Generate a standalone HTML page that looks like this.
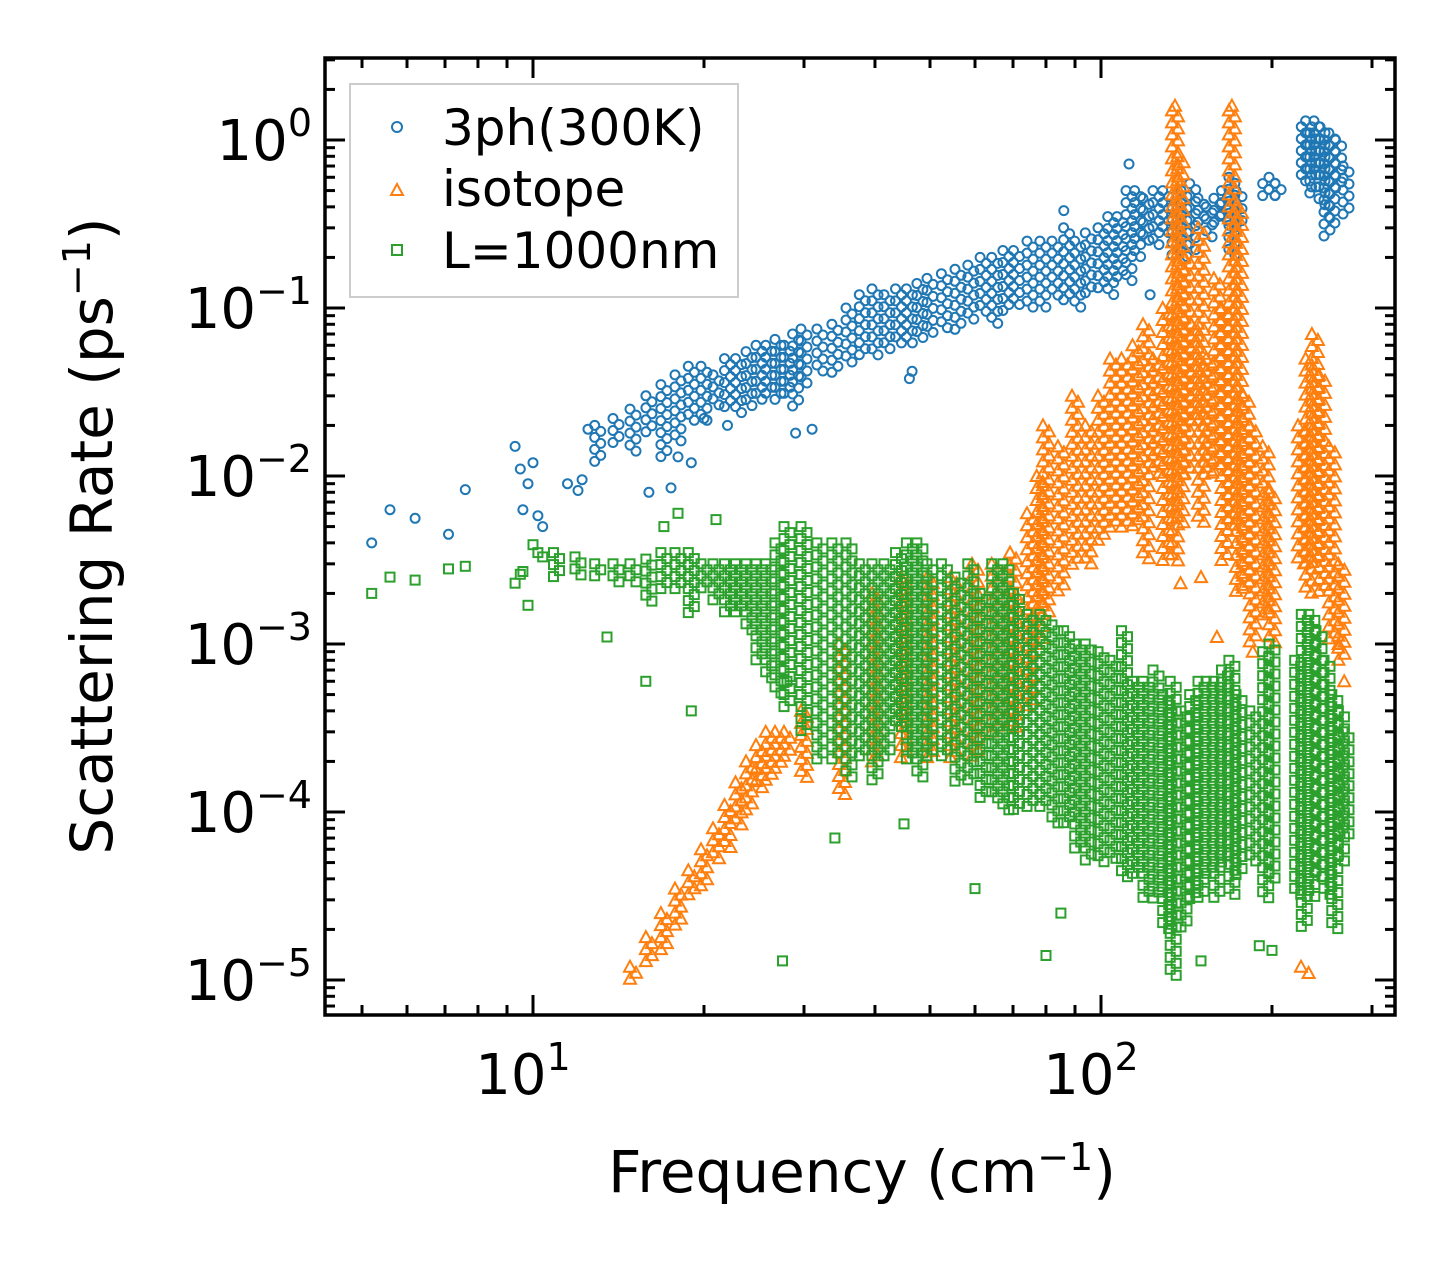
<!DOCTYPE html>
<html><head><meta charset="utf-8"><style>
body{margin:0;background:#fff}
svg{display:block;font-family:"DejaVu Sans","Liberation Sans",sans-serif}
</style></head><body>
<svg id="chart" width="1455" height="1265" viewBox="0 0 1455 1265" xmlns="http://www.w3.org/2000/svg">
<rect width="1455" height="1265" fill="#fff"/>
<g id="marks"></g>
<g id="axes"></g>
<g>
<rect x="350" y="84" width="388" height="213" fill="#fff" fill-opacity="0.8" stroke="#ccc" stroke-width="2"/>
<circle cx="397" cy="127" r="5" fill="none" stroke="#1f77b4" stroke-width="2"/>
<text x="442" y="145" font-size="50">3ph(300K)</text>
<path d="M391,195 L403,195 L397,184 Z" fill="none" stroke="#ff7f0e" stroke-width="2"/>
<text x="442" y="206" font-size="50">isotope</text>
<rect x="392" y="245" width="10" height="10" fill="none" stroke="#2ca02c" stroke-width="2"/>
<text x="442" y="268" font-size="50">L=1000nm</text>
</g>
<text x="862" y="1192" font-size="58" text-anchor="middle">Frequency (cm<tspan dy="-22" font-size="38">−1</tspan><tspan dy="22">)</tspan></text>
<text transform="translate(112,536) rotate(-90)" font-size="58" text-anchor="middle">Scattering Rate (ps<tspan dy="-22" font-size="38">−1</tspan><tspan dy="22">)</tspan></text>
</svg>
<script>
// Blue: 3-phonon scattering (scattered points)
const blueFreq=[5.2,5.6,6.2,7.1,7.6,9.3,9.5,9.6,9.8,10,10.2,10.4,11.5,12,12.2,12.5,16,17.5,18,19,20,22,29,31,46,46.5,86,112,122];
const blueRate=[0.004,0.0063,0.0056,0.0045,0.0083,0.015,0.011,0.0063,0.009,0.012,0.0058,0.005,0.009,0.0082,0.0095,0.019,0.008,0.0085,0.013,0.012,0.022,0.02,0.018,0.019,0.038,0.042,0.38,0.72,0.12];
// Blue dense ranges
const blueBandFreq=[13,14,15,16,17,18,19,20,21,22,23,24,25,26,27,28,29,30,32,34,36,38,40,42,44,46,48,50,53,56,59,62,65,68,71,75,79,83,87,91,95,100,104,108,112,116,120,125,130,135,140,145,150,155,160,165,170,175,195,200,205,228,232,236,240,245,250,255,262,270];
const blueBandLo=[0.012,0.015,0.014,0.018,0.013,0.015,0.02,0.02,0.025,0.025,0.022,0.025,0.028,0.03,0.028,0.03,0.025,0.035,0.04,0.04,0.045,0.05,0.05,0.055,0.06,0.06,0.065,0.07,0.075,0.07,0.08,0.09,0.08,0.09,0.1,0.1,0.1,0.11,0.11,0.1,0.12,0.13,0.12,0.15,0.14,0.2,0.25,0.22,0.28,0.2,0.2,0.22,0.3,0.25,0.3,0.33,0.2,0.3,0.45,0.45,0.45,0.6,0.5,0.45,0.6,0.4,0.25,0.3,0.5,0.35];
const blueBandHi=[0.02,0.022,0.025,0.03,0.035,0.04,0.045,0.045,0.04,0.05,0.05,0.055,0.06,0.06,0.065,0.06,0.07,0.075,0.075,0.08,0.1,0.12,0.13,0.12,0.13,0.13,0.14,0.15,0.16,0.17,0.18,0.2,0.2,0.22,0.22,0.25,0.25,0.25,0.3,0.25,0.28,0.3,0.35,0.35,0.5,0.5,0.45,0.5,0.5,0.4,0.5,0.55,0.45,0.4,0.45,0.5,0.6,0.5,0.55,0.6,0.55,1.2,1.3,1.1,1.3,1.2,1.0,1.1,1.0,0.7];
// Orange: isotope
const orangeFreq=[138,150,160,185,225,232,262,268,170,135];
const orangeRate=[0.0023,0.0025,0.0011,0.0009,0.000012,0.000011,0.001,0.0006,1.6,1.6];
const orangeBandFreq=[15,16,17,18,19,20,21,22,23,24,25,26,27,28,30,35,40,45,50,55,60,65,70,75,78,80,85,90,95,100,105,110,115,120,125,130,135,138,142,146,150,155,160,165,170,175,180,185,195,200,225,232,238,245,255,265];
const orangeBandLo=[1e-5,1.2e-5,1.5e-5,2e-5,3e-5,3.5e-5,5e-5,6e-5,8e-5,1e-4,1.3e-4,1.5e-4,1.8e-4,2e-4,1.5e-4,1.2e-4,2e-4,2e-4,2e-4,2e-4,2e-4,3e-4,3e-4,4e-4,1e-3,1.5e-3,2e-3,3e-3,3e-3,4e-3,5e-3,5e-3,5e-3,3e-3,1e-2,3e-3,3e-3,5e-3,1e-2,2e-2,5e-3,1e-2,1e-2,3e-3,5e-3,2e-3,2e-3,1e-3,1.5e-3,1e-3,3e-3,2e-3,3e-3,2e-3,1e-3,8e-4];
const orangeBandHi=[1.2e-5,1.8e-5,2.5e-5,3.5e-5,4.5e-5,6e-5,8e-5,1.1e-4,1.5e-4,2e-4,2.5e-4,3e-4,3e-4,3e-4,4e-4,1e-3,2e-3,2.5e-3,2.5e-3,2.5e-3,3e-3,3e-3,3.5e-3,6e-3,1e-2,2e-2,1.5e-2,3e-2,2e-2,3e-2,5e-2,5e-2,6e-2,8e-2,5e-2,0.1,1.5,0.8,0.2,0.08,0.3,0.05,0.15,0.1,1.5,0.4,0.03,0.02,1.5e-2,8e-3,2e-2,5e-2,0.07,0.04,1.5e-2,3e-3];
// Green: boundary L=1000nm
const greenFreq=[5.2,5.6,6.2,7.1,7.6,9.3,9.5,9.6,9.8,10,10.2,10.4,13.5,15.8,19,21,18,17,28,27.5,34,45,60,80,85,150,190,200];
const greenRate=[0.002,0.0025,0.0024,0.0028,0.0029,0.0023,0.0026,0.0027,0.0017,0.0039,0.0035,0.0033,0.0011,0.0006,0.0004,0.0055,0.006,0.005,0.0006,0.000013,0.00007,0.000085,0.000035,0.000014,0.000025,0.000013,0.000016,0.000015];
const greenBandFreq=[11,12,13,14,15,16,17,18,19,20,21,22,23,24,25,26,27,28,30,32,34,36,38,40,42,44,46,48,50,53,56,59,62,65,68,71,75,79,83,87,91,95,100,105,110,115,120,125,130,134,140,145,150,155,160,165,170,175,185,195,200,222,228,235,242,250,258,265,270];
const greenBandLo=[0.0025,0.0025,0.0024,0.0023,0.0022,0.0018,0.002,0.002,0.0015,0.002,0.0018,0.0015,0.0015,0.0012,0.0008,0.0006,0.0005,0.0004,0.0003,0.0002,0.0002,0.00015,0.0002,0.00015,0.0002,0.0003,0.0002,0.00015,0.0002,0.0002,0.00015,0.00015,0.00012,0.00012,0.0001,0.0001,0.0001,0.0001,0.00008,0.00008,0.00006,0.00005,0.00005,0.00005,0.00004,0.00004,0.00003,0.00003,0.00002,0.00001,0.00002,0.00003,0.00003,0.00004,0.00003,0.00005,0.00003,0.00004,0.00005,0.00003,0.00004,0.00003,0.00002,0.00003,0.00004,0.00003,0.00002,0.00005,0.00007];
const greenBandHi=[0.0035,0.0033,0.003,0.003,0.003,0.0032,0.0035,0.0035,0.0035,0.003,0.003,0.003,0.003,0.003,0.003,0.003,0.004,0.005,0.005,0.004,0.004,0.004,0.003,0.003,0.003,0.0035,0.004,0.004,0.003,0.003,0.0025,0.003,0.002,0.003,0.003,0.002,0.0015,0.0015,0.0013,0.0012,0.001,0.001,0.0009,0.0008,0.0012,0.0006,0.0006,0.0007,0.0005,0.0006,0.0004,0.0005,0.0006,0.0006,0.0006,0.0007,0.0008,0.0005,0.0004,0.0009,0.001,0.0008,0.0015,0.0015,0.0012,0.0008,0.0005,0.0004,0.0003];

const xTickVals=[10,100];
const xTickLabels=["1","2"];
const yTickVals=[1,0.1,0.01,0.001,0.0001,0.00001];
const yTickLabels=["0","−1","−2","−3","−4","−5"];

const L=325,R=1395,T=58,B=1015;
const X0=533,XD=568,Y0=140,YD=168;
function xs(f){return X0+XD*(Math.log10(f)-1);}
function ys(v){return Y0-YD*Math.log10(v);}
const NS="http://www.w3.org/2000/svg";
const marks=document.getElementById('marks');
const axes=document.getElementById('axes');
function mk(tag,attrs,parent){const e=document.createElementNS(NS,tag);for(const k in attrs)e.setAttribute(k,attrs[k]);parent.appendChild(e);return e;}

function marker(kind,x,y,g){
  let e;
  if(kind==='c'){e=mk('circle',{cx:x.toFixed(1),cy:y.toFixed(1),r:4.5,fill:'none',stroke:'#1f77b4','stroke-width':2},g);}
  else if(kind==='t'){e=mk('path',{d:`M${(x-6).toFixed(1)},${(y+5).toFixed(1)}L${(x+6).toFixed(1)},${(y+5).toFixed(1)}L${x.toFixed(1)},${(y-6).toFixed(1)}Z`,fill:'none',stroke:'#ff7f0e','stroke-width':2},g);}
  else {e=mk('rect',{x:(x-4.5).toFixed(1),y:(y-4.5).toFixed(1),width:9,height:9,fill:'none',stroke:'#2ca02c','stroke-width':2},g);}
  return e;
}
function drawSeries(name,kind,fr,rt,bf,blo,bhi){
  const g=mk('g',{},marks);
  
  
  for(let i=0;i<bf.length;i++){
    const x=xs(bf[i]),y1=ys(bhi[i]),y2=ys(blo[i]);
    let k=0;
    for(let y=y1;y<=y2+0.1;y+=6){
      const m=marker(kind,x+((k%2)?3:-3),y,g);
      
      
      k++;
    }
  }
  for(let i=0;i<fr.length;i++){
    const m=marker(kind,xs(fr[i]),ys(rt[i]),g);
    
    
  }
}
drawSeries('3ph','c',blueFreq,blueRate,blueBandFreq,blueBandLo,blueBandHi);
drawSeries('isotope','t',orangeFreq,orangeRate,orangeBandFreq,orangeBandLo,orangeBandHi);
drawSeries('boundary','s',greenFreq,greenRate,greenBandFreq,greenBandLo,greenBandHi);

const fr=mk('rect',{x:L,y:T,width:R-L,height:B-T,fill:'none',stroke:'#000','stroke-width':3.5},axes);


for(let d=0;d<=2;d++){for(let m=1;m<=9;m++){
  const f=m*Math.pow(10,d);const x=xs(f);if(x<L||x>R)continue;
  const len=m===1?20:10;
  mk('line',{x1:x,y1:B,x2:x,y2:B-len,stroke:'#000','stroke-width':3},axes);
  mk('line',{x1:x,y1:T,x2:x,y2:T+len,stroke:'#000','stroke-width':3},axes);
}}
for(let d=-6;d<=0;d++){for(let m=1;m<=9;m++){
  const v=m*Math.pow(10,d);const y=ys(v);if(y<T||y>B)continue;
  const len=m===1?20:10;
  mk('line',{x1:L,y1:y,x2:L+len,y2:y,stroke:'#000','stroke-width':3},axes);
  mk('line',{x1:R,y1:y,x2:R-len,y2:y,stroke:'#000','stroke-width':3},axes);
}}
xTickVals.forEach((v,i)=>{
  const t=mk('text',{x:xs(v)-10,y:1094,'font-size':56,'text-anchor':'middle'},axes);
  
  
  t.textContent='10';
  const s=mk('tspan',{dy:-24,'font-size':38},t);s.textContent=xTickLabels[i];
});
yTickVals.forEach((v,i)=>{
  const t=mk('text',{x:312,y:ys(v)+20,'font-size':56,'text-anchor':'end'},axes);
  
  
  const a=mk('tspan',{},t);a.textContent='10';
  const s=mk('tspan',{dy:-24,'font-size':38},t);s.textContent=yTickLabels[i];
});
</script>
</body></html>
